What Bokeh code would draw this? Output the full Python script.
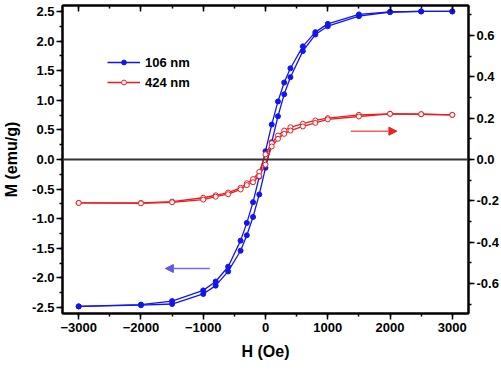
from bokeh.plotting import figure
from bokeh.models import (Range1d, LinearAxis, SingleIntervalTicker, Span, Arrow,
                          NormalHead, Legend, LegendItem, PrintfTickFormatter)
from bokeh.embed import file_html
from bokeh.resources import INLINE

# ---- data ----
H_desc = [3000, 2500, 2000, 1500, 1000, 800, 600, 400, 300, 200, 100, 0,
          -100, -200, -300, -400, -600, -800, -1000, -1500, -2000, -3000]
H_asc = [-3000, -2000, -1500, -1000, -800, -600, -400, -300, -200, -100, 0,
         100, 200, 300, 400, 600, 800, 1000, 1500, 2000, 2500, 3000]

# 106 nm (left axis, emu/g)
M106_desc = [2.50, 2.50, 2.49, 2.45, 2.29, 2.15, 1.91, 1.54, 1.30, 0.98, 0.59, 0.14,
             -0.29, -0.72, -1.07, -1.37, -1.81, -2.06, -2.21, -2.39, -2.45, -2.48]
M106_asc = [-2.48, -2.46, -2.44, -2.27, -2.13, -1.89, -1.54, -1.28, -0.97, -0.59, -0.14,
            0.29, 0.73, 1.10, 1.39, 1.83, 2.11, 2.25, 2.42, 2.49, 2.50, 2.50]

# 424 nm (right axis, emu/g)
M424_desc = [0.216, 0.219, 0.221, 0.216, 0.200, 0.189, 0.173, 0.156, 0.140, 0.116, 0.079, 0.025,
             -0.060, -0.095, -0.115, -0.137, -0.160, -0.173, -0.185, -0.204, -0.210, -0.210]
M424_asc = [-0.210, -0.212, -0.207, -0.194, -0.180, -0.168, -0.145, -0.124, -0.110, -0.080, -0.025,
            0.063, 0.100, 0.124, 0.140, 0.160, 0.177, 0.194, 0.208, 0.221, 0.219, 0.216]

labels = ["106 nm", "424 nm"]
x_ticks_interval = 1000
left_ticks_interval = 0.5
right_ticks_interval = 0.2

# arrows (data coords)
blue_arrow = dict(x0=-894, x1=-1608, y=-1.84)
red_arrow = dict(x0=1370, x1=2110, y=0.137)

BLUE = "#1414f0"
RED = "#ee1c1c"
FONT = "Liberation Sans"

p = figure(width=501, height=369, output_backend="svg", toolbar_location=None,
           x_range=Range1d(-3260, 3260), y_range=Range1d(-2.6, 2.6),
           min_border_left=58, min_border_right=32, min_border_top=5, min_border_bottom=56,
           background_fill_color="white", border_fill_color="white")
p.grid.visible = False
p.outline_line_color = "black"
p.outline_line_width = 2
p.extra_y_ranges = {"right": Range1d(-0.745, 0.745)}

def style_axis(ax):
    ax.axis_line_width = 2
    ax.axis_line_color = "black"
    ax.major_tick_line_width = 1.5
    ax.minor_tick_line_width = 1.5
    ax.major_tick_line_color = "black"
    ax.minor_tick_line_color = "black"
    ax.major_label_text_font = FONT
    ax.major_label_text_font_style = "bold"
    ax.major_label_text_font_size = "13px"
    ax.major_label_text_color = "black"
    ax.axis_label_text_font = FONT
    ax.axis_label_text_font_style = "bold"
    ax.axis_label_text_font_size = "16px"
    ax.axis_label_text_color = "black"
    ax.major_tick_out = 6
    ax.major_tick_in = 0
    ax.minor_tick_out = 3
    ax.minor_tick_in = 0
    ax.major_label_standoff = 3

xax = p.xaxis[0]
style_axis(xax)
xax.ticker = SingleIntervalTicker(interval=x_ticks_interval, num_minor_ticks=2)
xax.axis_label = "H (Oe)"
xax.axis_label_standoff = 8

yax = p.yaxis[0]
style_axis(yax)
yax.ticker = SingleIntervalTicker(interval=left_ticks_interval, num_minor_ticks=2)
yax.formatter = PrintfTickFormatter(format="%.1f")
yax.axis_label = "M (emu/g)"
yax.axis_label_standoff = 9
yax.major_label_standoff = 2

rax = LinearAxis(y_range_name="right",
                 ticker=SingleIntervalTicker(interval=right_ticks_interval, num_minor_ticks=2),
                 formatter=PrintfTickFormatter(format="%.1f"))
style_axis(rax)
rax.major_label_standoff = 2
p.add_layout(rax, "right")

tax = LinearAxis(ticker=SingleIntervalTicker(interval=x_ticks_interval, num_minor_ticks=2))
style_axis(tax)
tax.major_tick_out = 0
tax.major_tick_in = 6
tax.minor_tick_out = 0
tax.minor_tick_in = 3
tax.major_label_text_color = None
tax.major_label_text_font_size = "1px"
tax.major_label_standoff = 0
p.add_layout(tax, "above")

p.add_layout(Span(location=0, dimension="width", line_color="#333333", line_width=2))

# 106 nm
b1 = p.line(H_desc, M106_desc, line_color=BLUE, line_width=1.3)
b2 = p.line(H_asc, M106_asc, line_color=BLUE, line_width=1.3)
bs1 = p.scatter(H_desc, M106_desc, size=5, marker="circle", fill_color=BLUE, line_color=BLUE)
bs2 = p.scatter(H_asc, M106_asc, size=5, marker="circle", fill_color=BLUE, line_color=BLUE)

# 424 nm
r1 = p.line(H_desc, M424_desc, line_color=RED, line_width=1.3, y_range_name="right")
r2 = p.line(H_asc, M424_asc, line_color=RED, line_width=1.3, y_range_name="right")
rs1 = p.scatter(H_desc, M424_desc, size=5, marker="circle", fill_color="white",
                line_color=RED, line_width=1, y_range_name="right")
rs2 = p.scatter(H_asc, M424_asc, size=5, marker="circle", fill_color="white",
                line_color=RED, line_width=1, y_range_name="right")

p.add_layout(Arrow(end=NormalHead(size=8, fill_color="#5a5ae6", line_color="#5a5ae6"),
                   x_start=blue_arrow["x0"], y_start=blue_arrow["y"],
                   x_end=blue_arrow["x1"], y_end=blue_arrow["y"],
                   line_color="#7070e0", line_width=1.5))
p.add_layout(Arrow(end=NormalHead(size=8, fill_color="#ee2020", line_color="#ee2020"),
                   x_start=red_arrow["x0"], y_start=red_arrow["y"],
                   x_end=red_arrow["x1"], y_end=red_arrow["y"],
                   line_color="#f06060", line_width=1.5, y_range_name="right"))

legend = Legend(items=[LegendItem(label=labels[0], renderers=[b1, bs1]),
                       LegendItem(label=labels[1], renderers=[r1, rs1])],
                location=(45, 221), padding=0, spacing=0, margin=0,
                glyph_width=33, glyph_height=12, label_height=20, label_standoff=5,
                label_text_font=FONT, label_text_font_style="bold",
                label_text_font_size="13px", label_text_color="black",
                border_line_color=None, background_fill_alpha=0)
p.add_layout(legend, "center")

open("out.html", "w").write(file_html(p, INLINE))
